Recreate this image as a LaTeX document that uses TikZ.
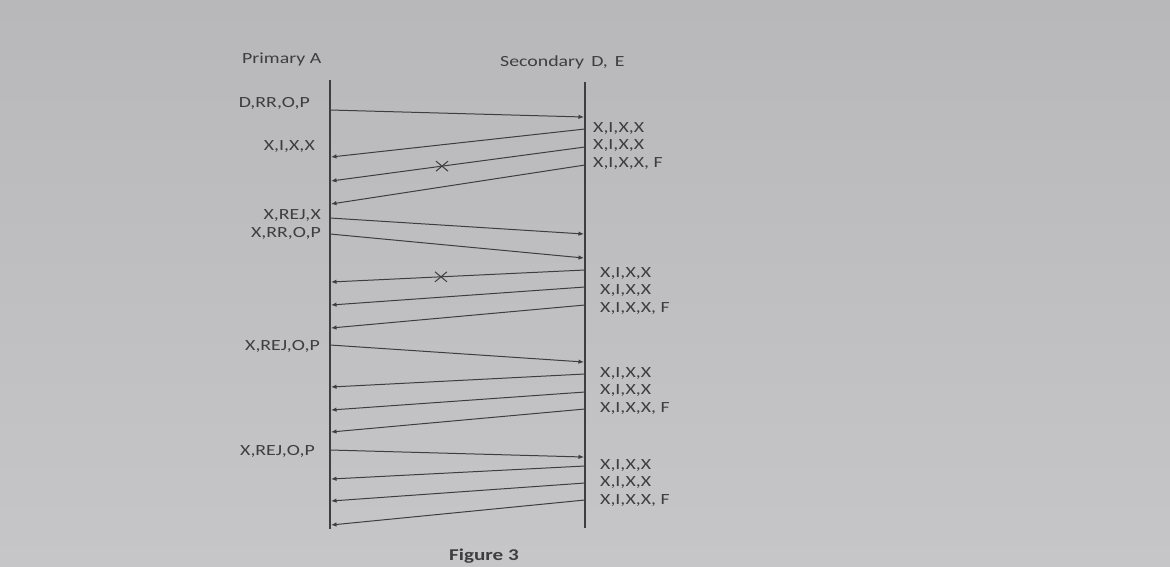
\documentclass[tikz,border=0pt]{standalone}
\usepackage{fontspec}
\setmainfont{Carlito}[FakeStretch=1.28]
\usetikzlibrary{arrows.meta,shapes.misc}
\definecolor{papertop}{RGB}{184,184,186}
\definecolor{paperbot}{RGB}{198,198,200}
\definecolor{ink}{RGB}{62,62,64}
\tikzset{
 lifeline/.style={draw=ink,line width=1.3pt},
 msg/.style={draw=ink,line width=1pt,-{Latex[length=5.5pt,width=4.5pt]}},
 lost/.style={cross out,draw=ink,line width=1pt,minimum width=11pt,minimum height=9pt,inner sep=0pt},
 lbl/.style={text=ink,font=\fontsize{15.5}{18}\selectfont,inner sep=0pt},
}
\begin{document}
\begin{tikzpicture}[x=1pt,y=-1pt]
\shade[top color=papertop,bottom color=paperbot] (0,0) rectangle (1170,566);
\useasboundingbox (0,0) rectangle (1170,566);

\node[lbl,anchor=base west] (prim) at (242,63) {Primary A};
\node[lbl,anchor=base west] (sec) at (500,66) {Secondary\, D,\, E};

\coordinate (A) at (330,80);
\coordinate (Aend) at (330,529);
\coordinate (D) at (585,82);
\coordinate (Dend) at (585,528);
\draw[lifeline] (A) -- (Aend);
\draw[lifeline] (D) -- (Dend);

\foreach \n/\ya/\yd in {1/110/117,2/218/234,3/234/258,4/345/362,5/450/457}{
 \coordinate (s\n) at (330,\ya);
 \coordinate (t\n) at (584,\yd);
 \draw[msg] (s\n) -- (t\n);
}
\foreach \n/\yd/\ya in {1/129/157,2/147/181,3/165/204,4/270/282,5/287/305,6/305/328,
 7/374/387,8/392/410,9/409/432,10/466/479,11/483/501,12/500/525}{
 \coordinate (b\n) at (585,\yd);
 \coordinate (c\n) at (331,\ya);
 \draw[msg] (b\n) -- (c\n);
}
\path (b2) -- node[lost,pos=.563] (lost1) {} (c2);
\path (b4) -- node[lost,pos=.567] (lost2) {} (c4);

\node[lbl,anchor=base east] (l1) at (310,107) {D,RR,O,P};
\node[lbl,anchor=base east] (l2) at (315,150) {X,I,X,X};
\node[lbl,anchor=base east] (l3) at (321,219) {X,REJ,X};
\node[lbl,anchor=base east] (l4) at (321,237) {X,RR,O,P};
\node[lbl,anchor=base east] (l5) at (320,350) {X,REJ,O,P};
\node[lbl,anchor=base east] (l6) at (315,455) {X,REJ,O,P};

\foreach \g/\x/\y in {1/593/132,2/600/277,3/600/377,4/600/469}{
 \node[lbl,anchor=base west] (f\g a) at (\x,\y) {X,I,X,X};
 \node[lbl,anchor=base west] (f\g b) at (\x,\y+17.5) {X,I,X,X};
 \node[lbl,anchor=base west] (f\g c) at (\x,\y+35) {X,I,X,X, F};
}

\node[lbl,anchor=base west,font=\fontsize{16.5}{19}\selectfont\bfseries] (cap) at (449,560) {Figure 3};
\end{tikzpicture}
\end{document}
